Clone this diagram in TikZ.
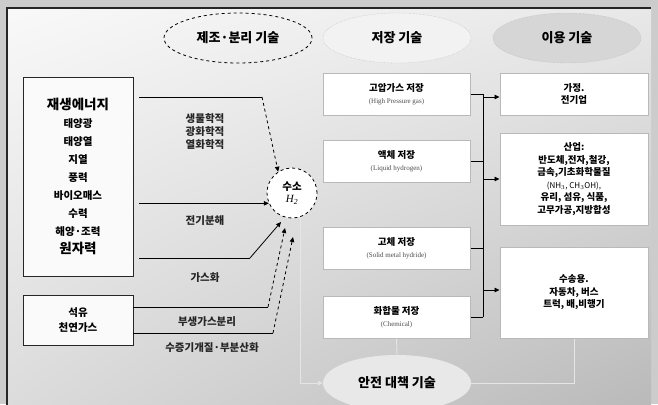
\documentclass[tikz,border=0pt]{standalone}
\usepackage{fontspec}
\setmainfont{Noto Sans CJK KR}
\newfontfamily\latn{Liberation Serif}
\usetikzlibrary{shapes.geometric,arrows.meta,shadings}
\tikzset{
  tech/.style={ellipse, minimum width=148, minimum height=50, inner sep=0pt,
    font=\bfseries\fontsize{13}{15}\selectfont},
  srcbox/.style={draw=black!85, line width=0.9pt, fill=white!60!gray!10, minimum width=110, align=center, inner sep=0pt},
  storebox/.style={draw=gray!55, line width=1pt, fill=white, minimum width=147, minimum height=42,
    align=center, inner sep=0pt, font=\bfseries\fontsize{9.5}{12}\selectfont},
  usebox/.style={draw=gray!55, line width=1pt, fill=white, minimum width=148,
    align=center, inner sep=0pt, font=\bfseries\fontsize{9.5}{12.5}\selectfont},
  conn/.style={draw=black, line width=0.8pt},
  tip/.style={-{Triangle[length=5pt,width=4.5pt]}},
  safe/.style={draw=white!80!gray, line width=0.9pt},
  lbl/.style={font=\bfseries\fontsize{10.5}{13}\selectfont, align=center, text=black!85}
}
\begin{document}
\begin{tikzpicture}[x=1pt,y=-1pt]
\useasboundingbox (0,0) rectangle (658,404);
\fill[gray!40] (0,0) rectangle (658,404);
\shade[upper left=white!95!gray, upper right=gray!18, lower left=gray!28, lower right=gray!55] (7,8) rectangle (651,410);
\draw[black!85, line width=1.2pt] (7,410) -- (7,8) -- (651,8);

% heading ellipses
\node[tech, draw=black, dashed, line width=0.8pt] (make) at (238,38) {제조·분리 기술};
\node[tech, draw=gray!60, densely dotted, fill=white!90!gray] (store) at (397,38) {저장 기술};
\node[tech, draw=gray!60, densely dotted, fill=gray!32] (use) at (567,38) {이용 기술};

% source boxes
\node[srcbox, minimum height=199, font=\bfseries\fontsize{10.5}{18}\selectfont] (renew) at (78,176.5)
  {{\fontsize{13.5}{18}\selectfont 재생에너지}\\태양광\\태양열\\지열\\풍력\\바이오매스\\수력\\해양·조력\\{\fontsize{13.5}{18}\selectfont 원자력}};
\node[srcbox, minimum height=50, font=\bfseries\fontsize{10.5}{15}\selectfont] (petro) at (78,320) {석유\\천연가스};

% hydrogen
\node[circle, draw=black, dashed, line width=0.8pt, fill=white, minimum size=50, inner sep=0pt, align=center,
  font=\bfseries\fontsize{10.5}{13}\selectfont] (h) at (292,193) {수소\\[-1pt]{\normalfont\latn\itshape\fontsize{11}{13}\selectfont H\textsubscript{2}}};

% production arrows
\coordinate (b1) at (262,97);
\draw[conn] ([xshift=6pt]renew.east |- b1) -- (b1);
\draw[conn, dashed, tip] (b1) -- (h.123);
\node[lbl] (l1) at (205,132) {생물학적\\광화학적\\열화학적};

\draw[conn, tip] ([xshift=6pt]renew.east |- h.204) -- (h.204);
\node[lbl] (l2) at (205,221) {전기분해};

\coordinate (b3) at (250,258);
\coordinate (e3) at (281,222);
\draw[conn] ([xshift=6pt]renew.east |- b3) -- (b3);
\draw[conn, tip] (b3) -- (e3);
\node[lbl] (l3) at (205,278) {가스화};

\coordinate (b4) at (268,307);
\coordinate (e4) at (285,228);
\draw[conn] (petro.east |- b4) -- (b4);
\draw[conn, dashed, tip] (b4) -- (e4);
\node[lbl] (l4) at (207,322) {부생가스분리};

\coordinate (b5) at (273,333);
\coordinate (e5) at (293,237);
\draw[conn] (petro.east |- b5) -- (b5);
\draw[conn, dashed, tip] (b5) -- (e5);
\node[lbl] (l5) at (212,348) {수증기개질·부분산화};

% storage boxes
\node[storebox] (s1) at (396.5,94) {고압가스 저장\\{\normalfont\latn\fontsize{7}{9}\selectfont\color{black!70}(High Pressure gas)}};
\node[storebox] (s2) at (396.5,161.5) {액체 저장\\{\normalfont\latn\fontsize{7}{9}\selectfont\color{black!70}(Liquid hydrogen)}};
\node[storebox] (s3) at (396.5,248.5) {고체 저장\\{\normalfont\latn\fontsize{7}{9}\selectfont\color{black!70}(Solid metal hydride)}};
\node[storebox] (s4) at (396.5,317) {화합물 저장\\{\normalfont\latn\fontsize{7}{9}\selectfont\color{black!70}(Chemical)}};

% use boxes
\node[usebox, minimum height=42] (u1) at (574,94) {가정.\\전기업};
\node[usebox, minimum height=92] (u2) at (574,179) {산업:\\반도체,전자,철강,\\금속,기초화학물질\\{\normalfont\fontsize{8}{10}\selectfont (NH$_3$, CH$_3$OH),}\\유리, 섬유, 식품,\\고무가공,지방합성};
\node[usebox, minimum height=91] (u3) at (574,292.5) {수송용.\\자동차, 버스\\트럭, 배,비행기};

% storage -> use
\coordinate (bx) at (483,0);
\foreach \s in {s1,s2,s3,s4} { \draw[conn] (\s.east) -- (\s.east -| bx); }
\draw[conn] (s1.east -| bx) -- (s4.east -| bx);
\draw[conn, tip] (bx |- 0,97) -- (u1.west |- 0,97);
\draw[conn, tip] (bx |- u2.west) -- (u2.west);
\draw[conn, tip] (bx |- 0,290) -- (u3.west |- 0,290);

% safety
\node[tech, fill=gray!18, minimum height=56] (safety) at (397,383) {안전 대책 기술};
\draw[safe, -{Triangle[length=5pt,width=4.5pt]}] (h.290) |- (safety.west);
\draw[safe] (s4.south) -- (safety.north);
\draw[safe] (u3.south) |- (safety.east);
\end{tikzpicture}
\end{document}
